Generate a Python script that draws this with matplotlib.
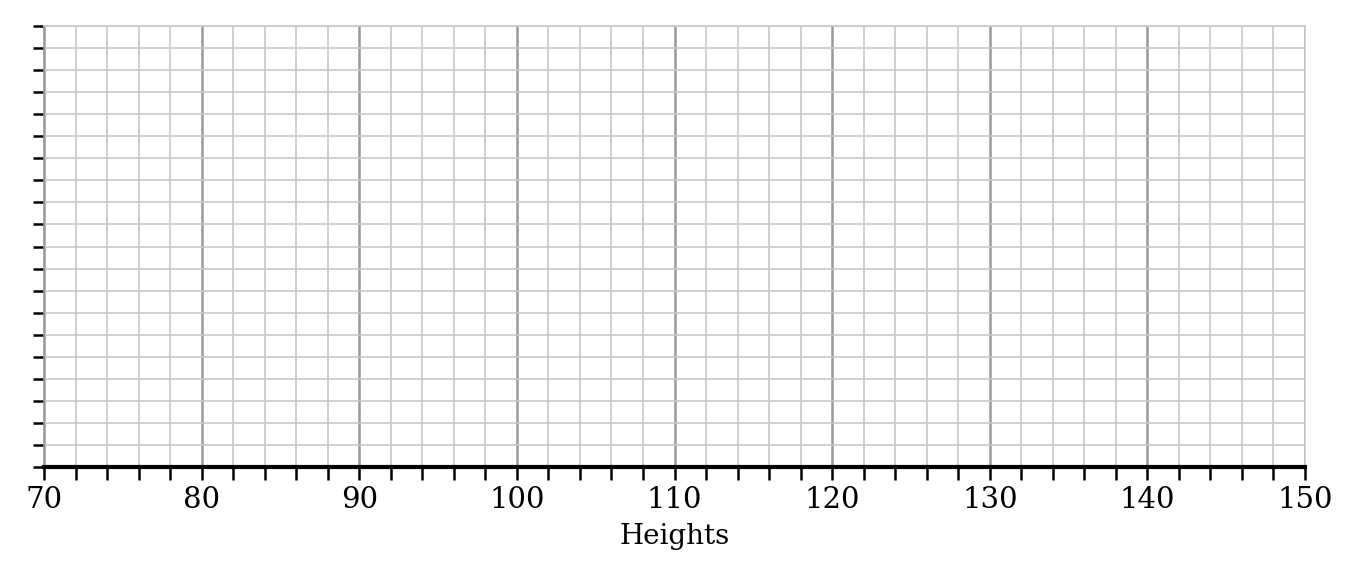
import matplotlib
matplotlib.use("Agg")
import matplotlib.pyplot as plt
from matplotlib.ticker import MultipleLocator
import numpy as np

x_min, x_max = 70, 150
x_major = list(range(70, 151, 10))
x_minor_step = 2
y_min, y_max = 0, 20
y_step = 1
x_label = "Heights"

plt.rcParams['font.family'] = ['DejaVu Serif']

fig = plt.figure(figsize=(13.6, 5.78), dpi=100)
ax = fig.add_axes([44/1360, 1-467/578, (1305-44)/1360, (467-26)/578])
ax.set_xlim(x_min, x_max)
ax.set_ylim(y_min, y_max)
ax.set_xticks(x_major)
ax.set_xticklabels([str(v) for v in x_major])
ax.xaxis.set_minor_locator(MultipleLocator(x_minor_step))
ax.yaxis.set_major_locator(MultipleLocator(y_step))
ax.set_yticklabels([])

ax.grid(True, which='minor', axis='x', color='#c8c8c8', linewidth=1.2)
ax.grid(True, which='major', axis='x', color='#999999', linewidth=1.8)
ax.grid(True, which='major', axis='y', color='#c8c8c8', linewidth=1.2)
ax.set_axisbelow(True)

for s in ['left', 'right', 'top']:
    ax.spines[s].set_color('#999999')
    ax.spines[s].set_linewidth(1.2)
ax.spines['top'].set_color('#c8c8c8')
ax.spines['right'].set_color('#c8c8c8')
ax.spines['bottom'].set_color('black')
ax.spines['bottom'].set_linewidth(3)
ax.spines['bottom'].set_zorder(5)

ax.tick_params(axis='x', which='both', direction='out', length=9, width=1.8, color='black', labelsize=21, pad=5)
ax.tick_params(axis='y', which='major', direction='out', length=8, width=1.8, color='black')
ax.set_xlabel(x_label, fontsize=20, labelpad=6)

fig.savefig("out.png", dpi=100)
